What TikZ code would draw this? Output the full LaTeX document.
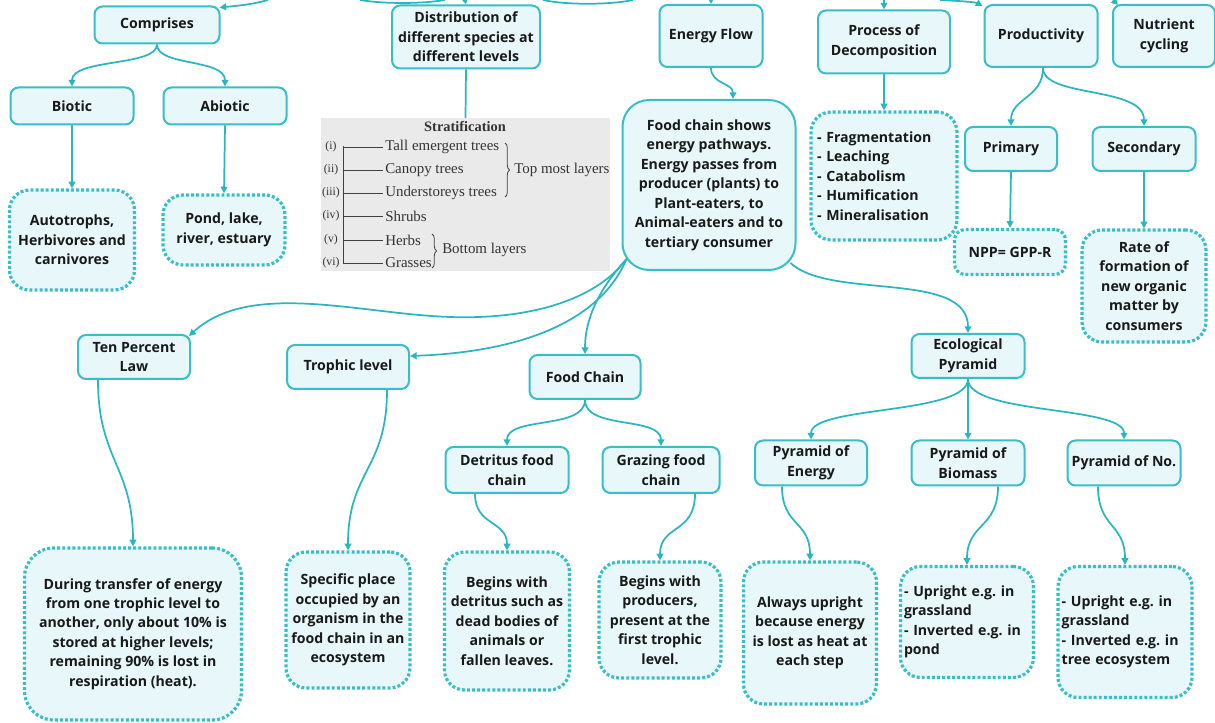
\documentclass[tikz,border=0pt]{standalone}
\usepackage{fontspec}
\setmainfont{Open Sans}
\newfontfamily\serifx{Liberation Serif}
\usetikzlibrary{arrows.meta,calc,decorations.pathreplacing}
\definecolor{tealb}{RGB}{56,190,198}
\definecolor{teall}{RGB}{42,182,192}
\definecolor{fillc}{RGB}{231,247,250}
\definecolor{grayb}{RGB}{234,234,234}
\definecolor{txt}{RGB}{25,25,25}
\frenchspacing
\tikzset{
  base/.style={align=center, font=\bfseries\fontsize{10.6}{14.6}\selectfont, text=txt, inner sep=2pt},
  box/.style={base, draw=tealb, fill=fillc, line width=1.5pt, rounded corners=6pt},
  dbox/.style={base, draw=tealb, fill=fillc, line width=2.4pt, dash pattern=on 2.2pt off 1.6pt, rounded corners=15pt},
  sz/.style 2 args={minimum width=#1*0.75pt, minimum height=#2*0.75pt},
  arr/.style={draw=teall, line width=1.3pt, -{Triangle[length=5pt,width=5pt]}},
  ln/.style={draw=teall, line width=1.3pt},
  sr/.style={font=\serifx\fontsize{11.2}{13}\selectfont, text=black!80, inner sep=0pt},
  rn/.style={font=\serifx\fontsize{8.8}{10}\selectfont, text=black!80, inner sep=0pt},
  sline/.style={draw=black!75, line width=0.7pt}
}
\begin{document}
\begin{tikzpicture}[x=0.75pt,y=-0.75pt]
\useasboundingbox (0,0) rectangle (1215,723);

% ---------- top row ----------
\node[box, sz={125}{37}] (comp) at (157,25) {Comprises};
\node[box, sz={123}{37}] (bio) at (72,106) {Biotic};
\node[box, sz={123}{37}] (abio) at (225,106) {Abiotic};
\node[dbox, sz={125}{100}] (auto) at (72,240) {Autotrophs,\\Herbivores and\\carnivores};
\node[dbox, sz={122}{70}] (pond) at (224,230) {Pond, lake,\\river, estuary};

\node[box, sz={148}{63}] (dist) at (466,37) {Distribution of\\different species at\\different levels};

% stratification panel
\fill[grayb] (321,118) rectangle (610,271);
\node (strat) at (465.5,118) {};
\node[sr, font=\serifx\bfseries\fontsize{10.8}{12}\selectfont] (st) at (465,127) {Stratification};
\draw[sline] (343,146) -- (343,264);
\foreach \y/\r/\t [count=\i] in {147/(i)/Tall emergent trees,170/(ii)/Canopy trees,193/(iii)/Understoreys trees,216/(iv)/Shrubs,240/(v)/Herbs,263/(vi)/Grasses}{
  \node[rn] (r\i) at (331,\y) {\r};
  \draw[sline] (343,\y) -- (383,\y);
  \node[sr, anchor=west] (s\i) at (385,\y) {\t};
}
\draw[sline, line width=0.6pt, decorate, decoration={brace, amplitude=3.5pt}] (505,143) -- (505,197);
\node[sr, anchor=west] (top) at (514,170) {Top most layers};
\draw[sline, line width=0.6pt, decorate, decoration={brace, amplitude=3.5pt}] (432,234) -- (432,268);
\node[sr, anchor=west] (bot) at (442,250) {Bottom layers};

\node[box, sz={103}{62}] (ef) at (711,36) {Energy Flow};
\node[box, sz={173}{170}, rounded corners=20pt] (fc) at (709,185) {Food chain shows\\energy pathways.\\Energy passes from\\producer (plants) to\\Plant-eaters, to\\Animal-eaters and to\\tertiary consumer};

\node[box, sz={132}{63}] (proc) at (884,42) {Process of\\Decomposition};
\node[dbox, sz={146}{128}, text width=100.5pt, align=left, inner xsep=4.5pt] (frag) at (884,176) {- Fragmentation\\- Leaching\\- Catabolism\\- Humification\\- Mineralisation};

\node[box, sz={113}{62}] (prod) at (1041,36) {Productivity};
\node[box, sz={102}{62}] (nut) at (1164,36) {Nutrient\\cycling};
\node[box, sz={92}{44}] (prim) at (1011,149) {Primary};
\node[box, sz={103}{44}] (sec) at (1144,149) {Secondary};
\node[dbox, sz={111}{45}, rounded corners=8pt] (npp) at (1010,252) {NPP= GPP-R};
\node[dbox, sz={124}{112}] (rate) at (1144,286) {Rate of\\formation of\\new organic\\matter by\\consumers};

% ---------- middle row ----------
\node[box, sz={112}{44}] (ten) at (134,357) {Ten Percent\\Law};
\node[box, sz={122}{44}] (tro) at (348,367) {Trophic level};
\node[box, sz={111}{44}] (fch) at (585,377) {Food Chain};
\node[box, sz={113}{44}] (eco) at (968,356) {Ecological\\Pyramid};
\node[box, sz={123}{46}] (det) at (507,470) {Detritus food\\chain};
\node[box, sz={117}{46}] (gra) at (661,470) {Grazing food\\chain};
\node[box, sz={112}{45}] (pe) at (811,463) {Pyramid of\\Energy};
\node[box, sz={113}{45}] (pb) at (968,463) {Pyramid of\\Biomass};
\node[box, sz={113}{45}] (pn) at (1124,463) {Pyramid of No.};

% ---------- bottom row ----------
\node[dbox, sz={217}{172}, rounded corners=22pt] (dur) at (133,634) {During transfer of energy\\from one trophic level to\\another, only about 10\% is\\stored at higher levels;\\remaining 90\% is lost in\\respiration (heat).};
\node[dbox, sz={124}{136}] (spec) at (348,620) {Specific place\\occupied by an\\organism in the\\food chain in an\\ecosystem};
\node[dbox, sz={125}{138}] (bd) at (507,621) {Begins with\\detritus such as\\dead bodies of\\animals or\\fallen leaves.};
\node[dbox, sz={122}{116}] (bp) at (660,620) {Begins with\\producers,\\present at the\\first trophic\\level.};
\node[dbox, sz={133}{142}] (al) at (810,633) {Always upright\\because energy\\is lost as heat at\\each step};
\node[dbox, sz={133}{111}, text width=94.5pt, align=left, inner xsep=2.5pt] (ub) at (967,622) {- Upright e.g. in\\grassland\\- Inverted e.g. in\\pond};
\node[dbox, sz={134}{131}, text width=95pt, align=left, inner xsep=2.5pt] (un) at (1125,632) {- Upright e.g. in\\grassland\\- Inverted e.g. in\\tree ecosystem};

% ---------- incoming from above (parent off-picture) ----------
\coordinate (t1) at (268,0);
\coordinate (t2) at (465,0);
\coordinate (t3) at (711,0);
\coordinate (t4) at (884,0);
\coordinate (t5) at (940,0);
\coordinate (t6) at (1113,0);
\draw[ln] (360,0) .. controls (385,4) and (420,4) .. (445,0);
\draw[ln] (543,0) .. controls (565,5) and (610,5) .. (633,0);
\draw[arr] (t1) .. controls (250,5) and (235,6) .. ([shift={(-1,2)}]comp.north east);
\draw[arr] (t2) -- (dist.north);
\draw[arr] (t3) -- (ef.north);
\draw[arr] (t4) -- (proc.north);
\draw[arr] (t5) .. controls (960,1) and (975,2) .. ([shift={(-1,2)}]prod.north west);
\draw[arr] (t6) -- ([shift={(6,1)}]nut.north west);

% ---------- connectors ----------
\draw[arr] (comp.south) .. controls +(0,22) and +(0,-28) .. (bio.north);
\draw[arr] (comp.south) .. controls +(0,22) and +(0,-28) .. (abio.north);
\draw[arr] (bio.south) -- (auto.north);
\draw[arr] (abio.south) -- (pond.north);
\draw[ln] (dist.south) -- (strat.center);
\draw[arr] (ef.south) .. controls +(0,16) and +(0,-16) .. ([shift={(24,0)}]fc.north);
\draw[arr] (proc.south) -- (frag.north);
\draw[arr] ([shift={(2,0)}]prod.south) .. controls +(0,30) and +(0,-28) .. (prim.north);
\draw[arr] ([shift={(2,0)}]prod.south) .. controls +(0,30) and +(0,-40) .. (sec.north);
\draw[arr] (prim.south) -- (npp.north);
\draw[arr] (sec.south) -- (rate.north);

\draw[arr] ([shift={(5,-12)}]fc.south west) .. controls (600,295) and (540,320) .. (450,317)
   .. controls (360,314) and (250,280) .. ([shift={(-2,2)}]ten.north east);
\draw[arr] ([shift={(5,-12)}]fc.south west) .. controls (600,322) and (520,352) .. ([shift={(0,-11)}]tro.east);
\draw[arr] ([shift={(5,-12)}]fc.south west) .. controls (598,290) and (585,320) .. (fch.north);
\draw[arr] ([shift={(-6,-8)}]fc.south east) .. controls (830,300) and (968,270) .. (eco.north);

\draw[arr] ([shift={(-36,0)}]ten.south) .. controls +(0,80) and +(0,-80) .. (dur.north);
\draw[arr] ([shift={(39,0)}]tro.south) .. controls +(0,80) and +(0,-80) .. (spec.north);
\draw[arr] (fch.south) .. controls +(0,30) and +(0,-30) .. (det.north);
\draw[arr] (fch.south) .. controls +(0,30) and +(0,-30) .. (gra.north);
\draw[arr] ([shift={(-32,0)}]det.south) .. controls +(0,32) and +(0,-30) .. (bd.north);
\draw[arr] ([shift={(34,0)}]gra.south) .. controls +(0,40) and +(0,-36) .. (bp.north);

\draw[arr] (eco.south) .. controls +(0,36) and +(0,-34) .. (pe.north);
\draw[arr] (eco.south) -- (pb.north);
\draw[arr] (eco.south) .. controls +(0,36) and +(0,-34) .. (pn.north);
\draw[arr] ([shift={(-29,0)}]pe.south) .. controls +(0,40) and +(0,-40) .. (al.north);
\draw[arr] ([shift={(30,0)}]pb.south) .. controls +(0,42) and +(0,-42) .. (ub.north);
\draw[arr] ([shift={(-26,0)}]pn.south) .. controls +(0,42) and +(0,-42) .. (un.north);
\end{tikzpicture}
\end{document}
